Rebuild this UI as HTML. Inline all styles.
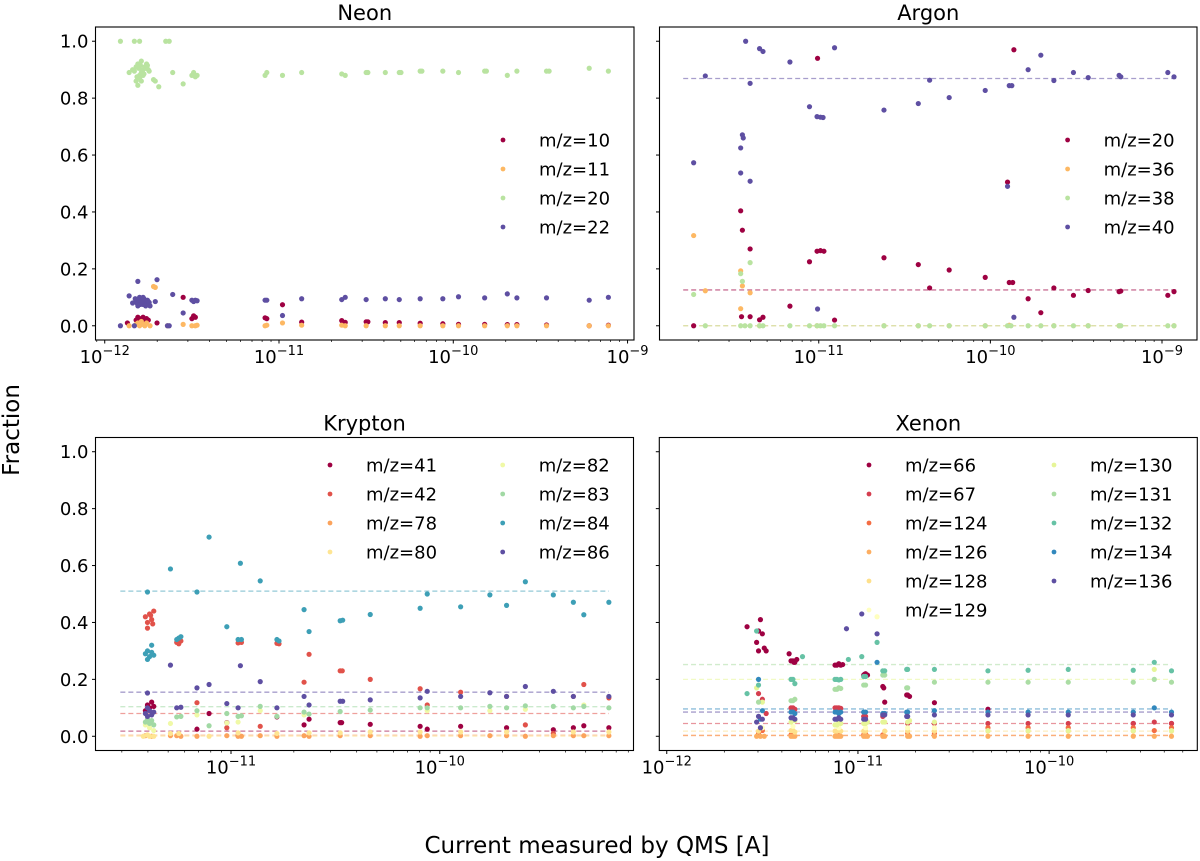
<!DOCTYPE html>
<html><head><meta charset="utf-8">
<style>
html,body{margin:0;padding:0;background:#fff;}
svg{display:block;font-family:"DejaVu Sans","Liberation Sans",sans-serif;}
</style></head>
<body>
<svg id="fig" width="1200" height="861" viewBox="0 0 1200 861" xmlns="http://www.w3.org/2000/svg">
<text x="19" y="430" font-size="23" text-anchor="middle" transform="rotate(-90 19 430)">Fraction</text>
<text x="597" y="853" font-size="23" text-anchor="middle">Current measured by QMS [A]</text>
</svg>
<script>
// ---------- DATA (x = log10 current [A], y = fraction) ----------
const neonLabels = ["m/z=10","m/z=11","m/z=20","m/z=22"];
const neonColors = ["#9e0142","#fdb863","#b9e3a0","#5e4fa2"];
const neon_mz10 = [[-11.87,0.01],[-11.82,0.02],[-11.81,0.03],[-11.80,0.025],[-11.79,0.015],[-11.78,0.03],[-11.77,0.02],[-11.76,0.025],[-11.75,0.02],[-11.70,0.01],[-11.55,0.10],[-11.50,0.025],[-11.49,0.035],[-11.48,0.03],[-11.08,0.028],[-11.07,0.025],[-10.98,0.074],[-10.87,0.013],[-10.64,0.018],[-10.62,0.012],[-10.50,0.014],[-10.49,0.014],[-10.39,0.011],[-10.31,0.011],[-10.19,0.009],[-10.06,0.007],[-9.97,0.005],[-9.82,0.005],[-9.69,0.004],[-9.635,0.004],[-9.465,0.003],[-9.22,0.0],[-9.11,0.002]];
const neon_mz11 = [[-11.86,0.0],[-11.82,0.005],[-11.81,0.01],[-11.80,0.0],[-11.79,0.015],[-11.78,0.005],[-11.77,0.0],[-11.76,0.01],[-11.74,0.0],[-11.72,0.138],[-11.71,0.135],[-11.64,0.0],[-11.55,0.005],[-11.50,0.0],[-11.48,0.0],[-11.47,0.002],[-11.08,0.0],[-11.07,0.002],[-10.98,0.01],[-10.87,0.002],[-10.64,0.002],[-10.62,0.0],[-10.50,0.0],[-10.39,0.0],[-10.31,0.0],[-10.19,0.0],[-10.06,0.0],[-9.97,0.0],[-9.82,0.0],[-9.69,0.0],[-9.635,0.0],[-9.465,0.0],[-9.22,0.0],[-9.11,0.0]];
const neon_mz20 = [[-11.91,1.0],[-11.83,1.0],[-11.80,1.0],[-11.65,1.0],[-11.63,1.0],[-11.86,0.89],[-11.84,0.90],[-11.82,0.91],[-11.81,0.92],[-11.80,0.88],[-11.79,0.93],[-11.78,0.90],[-11.77,0.91],[-11.80,0.87],[-11.79,0.89],[-11.82,0.86],[-11.76,0.92],[-11.75,0.90],[-11.78,0.88],[-11.81,0.845],[-11.83,0.895],[-11.805,0.905],[-11.795,0.915],[-11.785,0.895],[-11.775,0.885],[-11.765,0.905],[-11.815,0.875],[-11.755,0.915],[-11.745,0.895],[-11.79,0.86],[-11.71,0.86],[-11.72,0.865],[-11.69,0.84],[-11.61,0.89],[-11.55,0.85],[-11.50,0.88],[-11.49,0.89],[-11.48,0.875],[-11.47,0.88],[-11.08,0.88],[-11.07,0.89],[-10.98,0.88],[-10.87,0.89],[-10.64,0.885],[-10.62,0.88],[-10.50,0.89],[-10.49,0.89],[-10.39,0.89],[-10.31,0.89],[-10.30,0.89],[-10.19,0.895],[-10.18,0.895],[-10.06,0.895],[-9.97,0.89],[-9.82,0.895],[-9.81,0.895],[-9.69,0.88],[-9.635,0.895],[-9.465,0.895],[-9.45,0.895],[-9.22,0.905],[-9.11,0.895]];
const neon_mz22 = [[-11.91,0.0],[-11.86,0.105],[-11.83,0.0],[-11.81,0.156],[-11.84,0.08],[-11.82,0.09],[-11.81,0.07],[-11.80,0.085],[-11.79,0.095],[-11.78,0.075],[-11.77,0.09],[-11.76,0.08],[-11.80,0.1],[-11.75,0.085],[-11.74,0.07],[-11.78,0.1],[-11.815,0.08],[-11.805,0.09],[-11.795,0.075],[-11.785,0.085],[-11.775,0.095],[-11.765,0.07],[-11.755,0.09],[-11.745,0.082],[-11.825,0.095],[-11.70,0.162],[-11.71,0.085],[-11.64,0.0],[-11.63,0.0],[-11.61,0.11],[-11.55,0.045],[-11.50,0.09],[-11.49,0.085],[-11.48,0.09],[-11.47,0.088],[-11.08,0.09],[-11.07,0.09],[-10.98,0.036],[-10.87,0.095],[-10.64,0.092],[-10.62,0.10],[-10.50,0.092],[-10.39,0.095],[-10.31,0.092],[-10.19,0.095],[-10.06,0.095],[-9.97,0.102],[-9.82,0.098],[-9.69,0.112],[-9.635,0.098],[-9.465,0.098],[-9.22,0.09],[-9.11,0.10]];

const argonLabels = ["m/z=20","m/z=36","m/z=38","m/z=40"];
const argonColors = neonColors;
const argon_mz20 = [[-11.729,0.0],[-11.455,0.404],[-11.445,0.336],[-11.40,0.27],[-11.45,0.032],[-11.40,0.032],[-11.345,0.021],[-11.325,0.03],[-11.168,0.069],[-11.054,0.225],[-11.007,0.94],[-11.01,0.262],[-10.99,0.264],[-10.97,0.262],[-10.908,0.02],[-10.62,0.239],[-10.42,0.215],[-10.354,0.133],[-10.24,0.196],[-10.03,0.17],[-9.90,0.505],[-9.89,0.152],[-9.87,0.152],[-9.863,0.97],[-9.78,0.095],[-9.706,0.046],[-9.63,0.133],[-9.516,0.107],[-9.43,0.124],[-9.25,0.12],[-9.24,0.122],[-8.966,0.107],[-8.93,0.12]];
const argon_mz36 = [[-11.729,0.317],[-11.661,0.123],[-11.455,0.193],[-11.455,0.06],[-11.445,0.14],[-11.40,0.116],[-11.345,0.0],[-11.01,0.0],[-10.62,0.0],[-10.42,0.0],[-10.24,0.0],[-10.03,0.0],[-9.89,0.002],[-9.63,0.0],[-9.43,0.0],[-9.25,0.0],[-8.93,0.0]];
const argon_mz38 = [[-11.729,0.11],[-11.661,0.0],[-11.455,0.183],[-11.445,0.156],[-11.40,0.222],[-11.455,0.0],[-11.43,0.0],[-11.40,0.0],[-11.345,0.0],[-11.325,0.0],[-11.168,0.0],[-11.054,0.0],[-11.01,0.0],[-10.99,0.0],[-10.97,0.0],[-10.908,0.0],[-10.62,0.0],[-10.42,0.0],[-10.354,0.0],[-10.24,0.0],[-10.03,0.0],[-9.90,0.0],[-9.88,0.0],[-9.78,0.0],[-9.706,0.0],[-9.63,0.0],[-9.516,0.0],[-9.43,0.0],[-9.25,0.0],[-9.24,0.0],[-8.966,0.0],[-8.93,0.0]];
const argon_mz40 = [[-11.729,0.573],[-11.661,0.878],[-11.455,0.625],[-11.455,0.537],[-11.445,0.671],[-11.44,0.66],[-11.426,1.0],[-11.40,0.508],[-11.40,0.852],[-11.345,0.974],[-11.325,0.964],[-11.168,0.927],[-11.054,0.77],[-11.01,0.735],[-10.99,0.733],[-10.975,0.732],[-10.908,0.977],[-11.007,0.059],[-10.62,0.758],[-10.42,0.781],[-10.354,0.863],[-10.24,0.802],[-10.03,0.827],[-9.90,0.49],[-9.89,0.844],[-9.875,0.844],[-9.863,0.03],[-9.78,0.90],[-9.706,0.951],[-9.63,0.862],[-9.516,0.89],[-9.43,0.872],[-9.25,0.88],[-9.24,0.875],[-8.966,0.89],[-8.93,0.875]];
const argonMeans = [0.126,0.0,0.0,0.869];

const kryptonLabels = ["m/z=41","m/z=42","m/z=78","m/z=80","m/z=82","m/z=83","m/z=84","m/z=86"];
const kryptonColors = ["#9e0142","#e1524a","#fba35c","#fee593","#f0f9a7","#a1d9a4","#3d9fb6","#5e4fa2"];
const kr_mz41 = [[-11.41,0.09],[-11.40,0.11],[-11.39,0.10],[-11.38,0.12],[-11.37,0.105],[-11.25,0.005],[-11.163,0.025],[-11.105,0.08],[-11.02,0.048],[-10.966,0.002],[-10.78,0.068],[-10.65,0.04],[-10.626,0.06],[-10.477,0.048],[-10.47,0.048],[-10.333,0.042],[-10.094,0.035],[-10.06,0.025],[-9.90,0.035],[-9.68,0.03],[-9.456,0.023],[-9.36,0.03],[-9.31,0.037],[-9.19,0.03]];
const kr_mz42 = [[-11.41,0.42],[-11.40,0.40],[-11.39,0.43],[-11.38,0.41],[-11.37,0.44],[-11.40,0.38],[-11.385,0.425],[-11.375,0.395],[-11.26,0.33],[-11.25,0.325],[-11.24,0.335],[-11.163,0.118],[-11.02,0.03],[-10.966,0.328],[-10.95,0.33],[-10.86,0.035],[-10.78,0.327],[-10.77,0.325],[-10.65,0.19],[-10.626,0.288],[-10.477,0.23],[-10.467,0.23],[-10.333,0.2],[-10.094,0.167],[-10.06,0.11],[-9.90,0.155],[-9.68,0.14],[-9.59,0.04],[-9.456,0.01],[-9.36,0.14],[-9.31,0.182],[-9.19,0.135]];
const kr_mz78 = [[-11.41,0.002],[-11.38,0.0],[-11.29,0.002],[-11.26,0.002],[-11.24,0.0],[-11.163,0.0],[-11.02,0.002],[-10.966,0.0],[-10.95,0.0],[-10.86,0.002],[-10.78,0.0],[-10.65,0.002],[-10.626,0.0],[-10.477,0.002],[-10.333,0.002],[-10.094,0.0],[-10.06,0.002],[-9.90,0.002],[-9.76,0.002],[-9.68,0.002],[-9.59,0.0],[-9.456,0.002],[-9.36,0.002],[-9.31,0.002],[-9.19,0.002]];
const kr_mz80 = [[-11.42,0.0],[-11.40,0.005],[-11.39,0.0],[-11.37,0.0],[-11.29,0.01],[-11.25,0.01],[-11.105,0.0],[-10.966,0.012],[-10.78,0.01],[-10.626,0.012],[-10.477,0.012],[-10.333,0.015],[-10.094,0.015],[-9.90,0.015],[-9.68,0.015],[-9.36,0.015],[-9.19,0.015]];
const kr_mz82 = [[-11.41,0.04],[-11.39,0.03],[-11.37,0.02],[-11.29,0.045],[-11.163,0.075],[-11.02,0.047],[-10.966,0.05],[-10.86,0.09],[-10.65,0.075],[-10.06,0.09],[-9.76,0.09],[-9.59,0.095],[-9.31,0.11]];
const kr_mz83 = [[-11.41,0.05],[-11.40,0.06],[-11.39,0.045],[-11.38,0.055],[-11.37,0.04],[-11.26,0.068],[-11.24,0.07],[-11.163,0.09],[-11.105,0.037],[-11.02,0.08],[-10.966,0.07],[-10.95,0.072],[-10.86,0.105],[-10.78,0.07],[-10.65,0.085],[-10.626,0.078],[-10.477,0.087],[-10.333,0.092],[-10.094,0.1],[-10.06,0.1],[-9.90,0.1],[-9.76,0.105],[-9.68,0.1],[-9.59,0.107],[-9.456,0.105],[-9.36,0.1],[-9.31,0.105],[-9.19,0.1]];
const kr_mz84 = [[-11.41,0.29],[-11.40,0.30],[-11.39,0.28],[-11.38,0.295],[-11.37,0.285],[-11.40,0.27],[-11.38,0.32],[-11.40,0.507],[-11.29,0.588],[-11.26,0.34],[-11.25,0.345],[-11.24,0.35],[-11.163,0.507],[-11.105,0.70],[-11.02,0.385],[-10.966,0.34],[-10.95,0.34],[-10.955,0.608],[-10.86,0.546],[-10.78,0.34],[-10.77,0.335],[-10.65,0.445],[-10.626,0.368],[-10.477,0.406],[-10.465,0.408],[-10.333,0.428],[-10.094,0.45],[-10.06,0.50],[-9.90,0.455],[-9.76,0.497],[-9.68,0.46],[-9.59,0.543],[-9.456,0.497],[-9.36,0.471],[-9.31,0.427],[-9.19,0.471]];
const kr_mz86 = [[-11.41,0.08],[-11.40,0.07],[-11.39,0.09],[-11.38,0.075],[-11.37,0.085],[-11.40,0.1],[-11.40,0.152],[-11.29,0.25],[-11.26,0.1],[-11.24,0.102],[-11.163,0.17],[-11.105,0.182],[-11.02,0.115],[-10.966,0.1],[-10.955,0.248],[-10.86,0.192],[-10.78,0.1],[-10.65,0.14],[-10.626,0.11],[-10.477,0.123],[-10.465,0.123],[-10.333,0.128],[-10.094,0.135],[-10.06,0.158],[-9.90,0.14],[-9.76,0.153],[-9.68,0.14],[-9.59,0.175],[-9.456,0.158],[-9.36,0.14],[-9.19,0.14]];
const kryptonMeans = [0.018,0.08,0.004,0.0,null,0.104,0.51,0.155];

const xenonLabels = ["m/z=66","m/z=67","m/z=124","m/z=126","m/z=128","m/z=129","m/z=130","m/z=131","m/z=132","m/z=134","m/z=136"];
const xenonColors = ["#9e0142","#d53e4f","#f46d43","#fdae61","#fee08b","#ffffbf","#e6f598","#abdda4","#66c2a5","#3288bd","#5e4fa2"];
const xe_mz66 = [[-11.58,0.385],[-11.53,0.33],[-11.52,0.37],[-11.51,0.41],[-11.50,0.36],[-11.49,0.31],[-11.52,0.30],[-11.48,0.30],[-11.36,0.29],[-11.35,0.265],[-11.34,0.265],[-11.335,0.26],[-11.33,0.26],[-11.32,0.27],[-11.12,0.25],[-11.11,0.25],[-11.10,0.255],[-11.09,0.25],[-11.08,0.252],[-10.97,0.215],[-10.965,0.218],[-10.96,0.22],[-10.95,0.215],[-10.87,0.175],[-10.865,0.17],[-10.86,0.12],[-10.745,0.145],[-10.74,0.145],[-10.73,0.14],[-10.60,0.118],[-10.32,0.095],[-9.56,0.045],[-9.36,0.045]];
const xe_mz67 = [[-11.52,0.15],[-11.50,0.13],[-11.48,0.08],[-11.35,0.10],[-11.34,0.10],[-11.33,0.095],[-11.12,0.10],[-11.11,0.10],[-11.10,0.10],[-11.09,0.098],[-10.97,0.07],[-10.96,0.07],[-10.87,0.07],[-10.74,0.045],[-10.60,0.045],[-10.32,0.045],[-10.11,0.045],[-9.90,0.045],[-9.56,0.045],[-9.45,0.05],[-9.36,0.045]];
const xe_mz124 = [[-11.52,0.01],[-11.50,0.02],[-11.35,0.005],[-11.34,0.01],[-11.11,0.005],[-11.10,0.01],[-10.97,0.005],[-10.96,0.008],[-10.87,0.005],[-10.74,0.01],[-10.60,0.01],[-10.32,0.03],[-10.11,0.03],[-9.90,0.03],[-9.56,0.03],[-9.45,0.02],[-9.36,0.03]];
const xe_mz126 = [[-11.53,0.0],[-11.51,0.0],[-11.49,0.0],[-11.35,0.0],[-11.34,0.0],[-11.33,0.0],[-11.12,0.0],[-11.11,0.0],[-11.10,0.0],[-11.09,0.0],[-10.97,0.0],[-10.96,0.0],[-10.95,0.0],[-10.87,0.0],[-10.86,0.0],[-10.74,0.0],[-10.73,0.0],[-10.60,0.0],[-10.32,0.0],[-10.11,0.0],[-9.90,0.0],[-9.56,0.0],[-9.45,0.0],[-9.36,0.0]];
const xe_mz128 = [[-11.52,0.018],[-11.35,0.02],[-11.34,0.02],[-11.33,0.015],[-11.12,0.018],[-11.11,0.018],[-11.10,0.02],[-11.09,0.018],[-10.97,0.018],[-10.96,0.018],[-10.86,0.018],[-10.74,0.018],[-10.60,0.018],[-10.32,0.018],[-10.11,0.018],[-9.90,0.018],[-9.56,0.018],[-9.36,0.018]];
const xe_mz129 = [[-11.50,0.03],[-11.34,0.035],[-11.10,0.03],[-10.96,0.03],[-10.90,0.42],[-10.74,0.03],[-10.60,0.03]];
const xe_mz130 = [[-11.53,0.17],[-11.50,0.12],[-11.35,0.05],[-11.34,0.06],[-11.33,0.055],[-11.12,0.04],[-11.11,0.04],[-11.10,0.05],[-11.09,0.045],[-10.97,0.045],[-10.96,0.045],[-10.95,0.05],[-10.87,0.05],[-10.86,0.05],[-10.74,0.05],[-10.73,0.055],[-10.60,0.05],[-10.32,0.02],[-10.11,0.02],[-9.90,0.02],[-9.56,0.02],[-9.45,0.235],[-9.36,0.02]];
const xe_mz131 = [[-11.52,0.12],[-11.35,0.125],[-11.34,0.125],[-11.33,0.13],[-11.12,0.165],[-11.11,0.165],[-11.10,0.17],[-11.09,0.168],[-10.97,0.18],[-10.96,0.18],[-10.87,0.215],[-10.86,0.215],[-10.745,0.17],[-10.74,0.17],[-10.60,0.19],[-10.32,0.19],[-10.11,0.19],[-9.90,0.19],[-9.56,0.19],[-9.45,0.20],[-9.36,0.19]];
const xe_mz132 = [[-11.58,0.15],[-11.53,0.37],[-11.52,0.18],[-11.35,0.20],[-11.34,0.20],[-11.33,0.185],[-11.29,0.28],[-11.12,0.20],[-11.11,0.20],[-11.10,0.198],[-11.09,0.20],[-11.05,0.27],[-10.98,0.28],[-10.97,0.21],[-10.96,0.21],[-10.90,0.33],[-10.87,0.23],[-10.86,0.23],[-10.745,0.235],[-10.74,0.235],[-10.60,0.235],[-10.32,0.23],[-10.11,0.232],[-9.90,0.235],[-9.56,0.232],[-9.45,0.26],[-9.36,0.23]];
const xe_mz134 = [[-11.52,0.20],[-11.51,0.06],[-11.50,0.09],[-11.35,0.085],[-11.34,0.085],[-11.33,0.08],[-11.12,0.085],[-11.11,0.085],[-11.10,0.08],[-11.09,0.085],[-10.97,0.085],[-10.96,0.085],[-10.90,0.26],[-10.87,0.08],[-10.86,0.08],[-10.745,0.085],[-10.74,0.085],[-10.60,0.09],[-10.32,0.085],[-10.11,0.085],[-9.90,0.085],[-9.56,0.085],[-9.45,0.1],[-9.36,0.085]];
const xe_mz136 = [[-11.53,0.05],[-11.52,0.07],[-11.51,0.03],[-11.50,0.06],[-11.35,0.065],[-11.34,0.065],[-11.33,0.06],[-11.12,0.06],[-11.11,0.06],[-11.10,0.065],[-11.09,0.06],[-11.06,0.378],[-10.98,0.43],[-10.97,0.06],[-10.96,0.06],[-10.90,0.36],[-10.87,0.075],[-10.86,0.075],[-10.745,0.07],[-10.74,0.07],[-10.60,0.075],[-10.32,0.075],[-10.11,0.075],[-9.90,0.075],[-9.56,0.075],[-9.36,0.075]];
const xenonMeans = [null,0.045,0.003,0.003,0.018,null,0.2,0.252,null,0.096,0.085];

const yTickValues = [0.0,0.2,0.4,0.6,0.8,1.0];
const yTickLabels = ["0.0","0.2","0.4","0.6","0.8","1.0"];

// ---------- DRAWING ----------
const svg = document.getElementById('fig');
const NS = 'http://www.w3.org/2000/svg';
function mk(tag, attrs, parent){
  const e = document.createElementNS(NS, tag);
  for (const k in attrs) e.setAttribute(k, attrs[k]);
  (parent||svg).appendChild(e);
  return e;
}

function panel(cfg){
  const g = mk('g', {});
  
  
  const L=cfg.box[0], R=cfg.box[1], T=cfg.box[2], B=cfg.box[3];
  const sx = v => L + (v - cfg.xmin) / (cfg.xmax - cfg.xmin) * (R - L);
  const sy = v => B - (v - (-0.05)) / 1.1 * (B - T);

  const t = mk('text', {x:(L+R)/2, y:T-7, 'font-size':21, 'text-anchor':'middle'}, g);
  t.textContent = cfg.title;
  
  

  yTickValues.forEach((v,i)=>{
    const y = sy(v);
    const tk = mk('line', {x1:L-3.5, x2:L, y1:y, y2:y, stroke:'#000', 'stroke-width':1}, g);
    
    
    if (cfg.ylabels){
      const tl = mk('text', {x:L-7, y:y+6.5, 'font-size':18, 'text-anchor':'end'}, g);
      tl.textContent = yTickLabels[i];
      
      
    }
  });
  for (let d = Math.floor(cfg.xmin); d <= Math.ceil(cfg.xmax); d++){
    for (let m = 1; m <= 9; m++){
      const v = d + Math.log10(m);
      if (v < cfg.xmin || v > cfg.xmax) continue;
      const x = sx(v);
      const len = m === 1 ? 3.5 : 2;
      const tk = mk('line', {x1:x, x2:x, y1:B, y2:B+len, stroke:'#000', 'stroke-width': m===1?1:0.7}, g);
      
      
      if (m === 1){
        const tl = mk('text', {x:x, y:B+23, 'font-size':18, 'text-anchor':'middle'}, g);
        
        
        const a = mk('tspan', {}, tl); a.textContent = '10';
        const b = mk('tspan', {dy:-8, 'font-size':13}, tl); b.textContent = '\u2212' + Math.abs(d);
      }
    }
  }
  cfg.series.forEach((s,i)=>{
    const mv = cfg.means ? cfg.means[i] : null;
    if (mv === null || mv === undefined) return;
    const ln = mk('line', {x1:sx(cfg.lineFrom), x2:sx(cfg.lineTo), y1:sy(mv), y2:sy(mv), stroke:cfg.colors[i], 'stroke-opacity':0.55, 'stroke-width':1.3, 'stroke-dasharray':'5,3'}, g);
    
    
  });
  cfg.series.forEach((s,i)=>{
    const sg = mk('g', {fill:cfg.colors[i]}, g);
    
    
    s.forEach(p=>{
      const c = mk('circle', {cx:sx(p[0]), cy:sy(p[1]), r:2.6}, sg);
      
      
    });
  });
  const fr = mk('rect', {x:L, y:T, width:R-L, height:B-T, fill:'none', stroke:'#000', 'stroke-width':1.1}, g);
  
  
  const lg = mk('g', {}, g);
  
  
  cfg.labels.forEach((lab,i)=>{
    const col = Math.floor(i / cfg.legRows);
    const row = i % cfg.legRows;
    const mx = cfg.legX[col], y = cfg.legY + row * 29;
    const e = mk('g', {}, lg);
    
    
    mk('circle', {cx:mx, cy:y, r:2.4, fill:cfg.colors[i]}, e);
    const tx = mk('text', {x:mx+36, y:y+6.5, 'font-size':18}, e);
    tx.textContent = lab;
  });
}

panel({id:'neon', title:'Neon', box:[95.5,634,27,340], xmin:-12.053, xmax:-8.963, ylabels:true,
  series:[neon_mz10,neon_mz11,neon_mz20,neon_mz22], labels:neonLabels, colors:neonColors, means:null,
  legX:[503], legY:140, legRows:4});
panel({id:'argon', title:'Argon', box:[659.5,1197,27,340], xmin:-11.928, xmax:-8.796, ylabels:false,
  series:[argon_mz20,argon_mz36,argon_mz38,argon_mz40], labels:argonLabels, colors:argonColors, means:argonMeans,
  lineFrom:-11.79, lineTo:-8.915, legX:[1067.6], legY:140, legRows:4});
panel({id:'krypton', title:'Krypton', box:[95.5,633.5,437.5,750.5], xmin:-11.649, xmax:-9.072, ylabels:true,
  series:[kr_mz41,kr_mz42,kr_mz78,kr_mz80,kr_mz82,kr_mz83,kr_mz84,kr_mz86], labels:kryptonLabels, colors:kryptonColors, means:kryptonMeans,
  lineFrom:-11.53, lineTo:-9.19, legX:[330,502.7], legY:465, legRows:4});
panel({id:'xenon', title:'Xenon', box:[659.3,1197.3,437.5,750.5], xmin:-12.039, xmax:-9.225, ylabels:false,
  series:[xe_mz66,xe_mz67,xe_mz124,xe_mz126,xe_mz128,xe_mz129,xe_mz130,xe_mz131,xe_mz132,xe_mz134,xe_mz136], labels:xenonLabels, colors:xenonColors, means:xenonMeans,
  lineFrom:-11.915, lineTo:-9.36, legX:[869,1054], legY:465, legRows:6});
</script>
</body></html>
